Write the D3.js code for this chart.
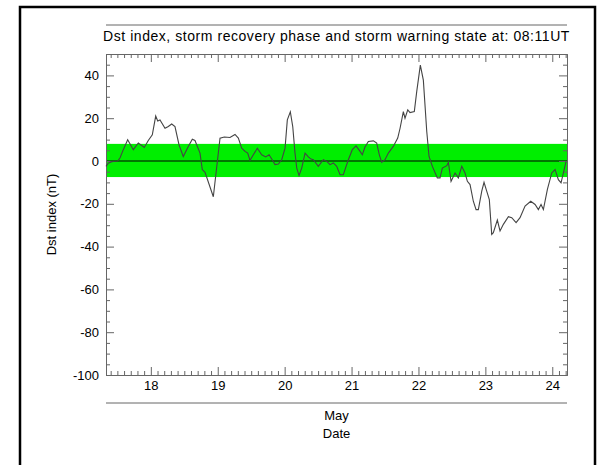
<!DOCTYPE html>
<html>
<head>
<meta charset="utf-8">
<script src="https://cdn.jsdelivr.net/npm/d3@7"></script>
<style>
  body { margin: 0; background: #fff; }
  text { font-family: "Liberation Sans", Arial, Helvetica, sans-serif; fill: #000; }
</style>
</head>
<body>
<div id="vis-container"></div>
<script>
// Dst values (day of May, nT)
const dstDay = [
  17.330, 17.364, 17.415, 17.505, 17.539, 17.589, 17.654, 17.738, 17.813, 17.902,
  17.962, 18.022, 18.073, 18.103, 18.137, 18.212, 18.261, 18.312, 18.361, 18.421,
  18.485, 18.560, 18.620, 18.660, 18.735, 18.769, 18.810, 18.934, 19.034, 19.098,
  19.183, 19.258, 19.308, 19.358, 19.408, 19.448, 19.482, 19.532, 19.592, 19.657,
  19.717, 19.767, 19.807, 19.856, 19.906, 19.956, 20.006, 20.040, 20.085, 20.121,
  20.155, 20.181, 20.215, 20.255, 20.305, 20.354, 20.394, 20.429, 20.503, 20.578,
  20.629, 20.678, 20.728, 20.778, 20.828, 20.877, 20.902, 20.952, 21.012, 21.067,
  21.127, 21.161, 21.201, 21.251, 21.326, 21.376, 21.415, 21.451, 21.500, 21.550,
  21.624, 21.690, 21.725, 21.774, 21.799, 21.840, 21.874, 21.938, 21.974, 22.028,
  22.073, 22.124, 22.158, 22.208, 22.282, 22.322, 22.357, 22.423, 22.447, 22.487,
  22.547, 22.596, 22.647, 22.696, 22.731, 22.771, 22.820, 22.861, 22.895, 22.946,
  22.980, 23.020, 23.059, 23.095, 23.119, 23.179, 23.219, 23.269, 23.344, 23.394,
  23.459, 23.518, 23.593, 23.678, 23.743, 23.792, 23.832, 23.867, 23.927, 23.992,
  24.042, 24.091, 24.131, 24.166, 24.206
];
const dstValue = [
  -2.5, -1, -0.3, 0, 1.4, 5.3, 9.9, 5.3, 8.4, 6.3,
  9.6, 12.2, 21, 18.7, 19.2, 15.3, 16.1, 17.3, 16.1, 7.6,
  2.1, 6.8, 10.2, 9.6, 3.7, -4, -5.3, -16.7, 10.7, 11.2,
  11, 12.4, 10.7, 6, 4.5, 3.7, 0.3, 2.9, 6, 2.9,
  1.9, 2.9, 0.9, -1.7, -1.4, 0.6, 6, 19.2, 23, 16.1,
  3.7, -3.3, -6.8, -3.3, 3.7, 1.9, 0.9, 0.6, -2.5, 0.6,
  -0.2, -1.7, -0.9, -2.5, -6.4, -6.4, -4, 0.6, 5.3, 7.1,
  4.5, 2.9, 6.5, 9.1, 9.4, 8.4, 2.9, -0.6, 0.6, 3.7,
  6.8, 10.7, 15.3, 23.1, 20, 23.9, 22.6, 23.1, 32.4, 44.8,
  37.8, 13.8, 2.1, -2.5, -7.9, -7.9, -3.3, -2.2, -0.6, -9.5,
  -5.6, -7.9, -2.5, -5.6, -9.5, -11, -18.8, -22.7, -22.7, -14.1,
  -10, -14.1, -18, -34.3, -33.5, -27.6, -32.7, -29.6, -26, -26.5,
  -28.8, -26.5, -21.1, -18.8, -20.3, -22.7, -20.3, -22.7, -13.3, -5.6,
  -4, -8.7, -10.2, -5.6, -0.2
];

// quiet band limits (nT)
const bandLimits = [8, -7.5];

// axes
const dayRange = [17.33, 24.22];
const dstRange = [-100, 50];
const xTickDays = [18, 19, 20, 21, 22, 23, 24];
const yTickLabels = [40, 20, 0, -20, -40, -60, -80, -100];

const titleText = "Dst index, storm recovery phase and storm warning state at: 08:11UT";
const xMonth = "May";
const xLabel = "Date";
const yLabel = "Dst index (nT)";

const width = 599;
const height = 465;
const margin = { top: 54, right: 32, bottom: 90, left: 106 };

const svg = d3.select("#vis-container")
    .append("svg")
    .attr("width", width)
    .attr("height", height);

const x = d3.scaleLinear()
    .domain(dayRange)
    .range([margin.left, width - margin.right]);

const y = d3.scaleLinear()
    .domain(dstRange)
    .range([height - margin.bottom, margin.top]);

// outer frame
svg.append("rect")
    .attr("x", 20)
    .attr("y", 7)
    .attr("width", 575)
    .attr("height", 500)
    .attr("fill", "none")
    .attr("stroke", "#000")
    .attr("stroke-width", 2.5);

// green band
svg.append("rect")
    .attr("x", x(dayRange[0]))
    .attr("y", y(bandLimits[0]))
    .attr("width", x(dayRange[1]) - x(dayRange[0]))
    .attr("height", y(bandLimits[1]) - y(bandLimits[0]))
    .attr("fill", "#00ee00");

// zero line
svg.append("line")
    .attr("x1", x(dayRange[0]))
    .attr("x2", x(dayRange[1]))
    .attr("y1", y(0))
    .attr("y2", y(0))
    .attr("stroke", "#000")
    .attr("stroke-width", 1);

// minor ticks every 0.1 day and every 5 nT
const xMinor = d3.range(Math.ceil(dayRange[0] * 10), Math.floor(dayRange[1] * 10) + 1)
    .map(i => i / 10)
    .filter(d => Math.abs(d - Math.round(d)) > 1e-6);
const yMinor = d3.range(dstRange[0], dstRange[1] + 1, 5)
    .filter(d => d % 20 !== 0);

const axisColor = "#666";
const plain = d => String(d); // keep ascii hyphen for negatives

function styleAxis(g) {
    g.selectAll("path.domain").attr("stroke", axisColor);
    g.selectAll(".tick line").attr("stroke", axisColor);
    g.selectAll(".tick text")
        .attr("font-size", "13px")
        .attr("fill", "#000")
        .attr("font-family", '"Liberation Sans", Arial, sans-serif');
}

// bottom
svg.append("g")
    .attr("transform", `translate(0,${height - margin.bottom})`)
    .call(d3.axisBottom(x).tickValues(xTickDays).tickSizeInner(-8).tickSizeOuter(0).tickPadding(6).tickFormat(plain))
    .call(styleAxis);
svg.append("g")
    .attr("transform", `translate(0,${height - margin.bottom})`)
    .call(d3.axisBottom(x).tickValues(xMinor).tickSizeInner(-4).tickSizeOuter(0).tickFormat(""))
    .call(styleAxis);

// top (mirror)
svg.append("g")
    .attr("transform", `translate(0,${margin.top})`)
    .call(d3.axisTop(x).tickValues(xTickDays).tickSizeInner(-8).tickSizeOuter(0).tickFormat(""))
    .call(styleAxis);
svg.append("g")
    .attr("transform", `translate(0,${margin.top})`)
    .call(d3.axisTop(x).tickValues(xMinor).tickSizeInner(-4).tickSizeOuter(0).tickFormat(""))
    .call(styleAxis);

// left
svg.append("g")
    .attr("transform", `translate(${margin.left},0)`)
    .call(d3.axisLeft(y).tickValues(yTickLabels).tickSizeInner(-8).tickSizeOuter(0).tickPadding(7).tickFormat(plain))
    .call(styleAxis);
svg.append("g")
    .attr("transform", `translate(${margin.left},0)`)
    .call(d3.axisLeft(y).tickValues(yMinor).tickSizeInner(-4).tickSizeOuter(0).tickFormat(""))
    .call(styleAxis);

// right (mirror)
svg.append("g")
    .attr("transform", `translate(${width - margin.right},0)`)
    .call(d3.axisRight(y).tickValues(yTickLabels).tickSizeInner(-8).tickSizeOuter(0).tickFormat(""))
    .call(styleAxis);
svg.append("g")
    .attr("transform", `translate(${width - margin.right},0)`)
    .call(d3.axisRight(y).tickValues(yMinor).tickSizeInner(-4).tickSizeOuter(0).tickFormat(""))
    .call(styleAxis);

// Dst line
const line = d3.line()
    .x((d, i) => x(dstDay[i]))
    .y(d => y(d));

svg.append("path")
    .datum(dstValue)
    .attr("fill", "none")
    .attr("stroke", "#444")
    .attr("stroke-width", 1.1)
    .attr("d", line);

// separator lines above title and below date labels
svg.append("line")
    .attr("x1", x(dayRange[0])).attr("x2", x(dayRange[1]))
    .attr("y1", 25).attr("y2", 25)
    .attr("stroke", axisColor).attr("stroke-width", 1);
svg.append("line")
    .attr("x1", x(dayRange[0])).attr("x2", x(dayRange[1]))
    .attr("y1", 403).attr("y2", 403)
    .attr("stroke", axisColor).attr("stroke-width", 1);

// texts
const midX = (x(dayRange[0]) + x(dayRange[1])) / 2;

svg.append("text")
    .attr("x", midX)
    .attr("y", 40.5)
    .attr("text-anchor", "middle")
    .attr("font-size", "14px")
    .attr("letter-spacing", "0.55px")
    .text(titleText);

svg.append("text")
    .attr("x", midX)
    .attr("y", 420)
    .attr("text-anchor", "middle")
    .attr("font-size", "13px")
    .text(xMonth);

svg.append("text")
    .attr("x", midX)
    .attr("y", 438)
    .attr("text-anchor", "middle")
    .attr("font-size", "13px")
    .text(xLabel);

svg.append("text")
    .attr("transform", `translate(56,${(y(dstRange[0]) + y(dstRange[1])) / 2}) rotate(-90)`)
    .attr("text-anchor", "middle")
    .attr("font-size", "13px")
    .text(yLabel);
</script>
</body>
</html>
